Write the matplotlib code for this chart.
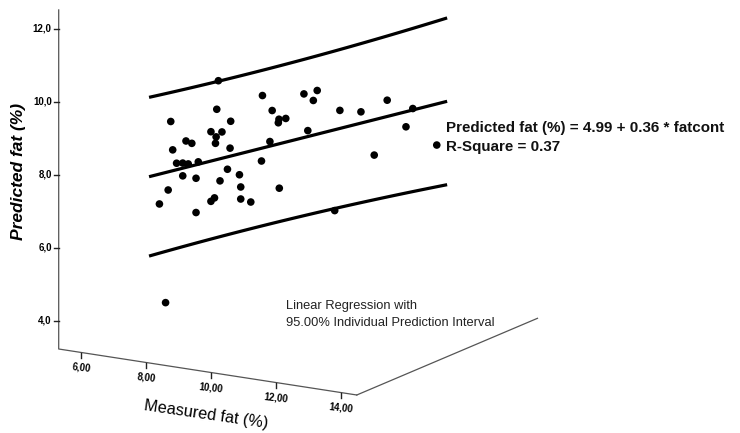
import numpy as np
import matplotlib
matplotlib.use("Agg")
import matplotlib.pyplot as plt
from matplotlib.transforms import Affine2D

plt.rcParams['font.family'] = ['Liberation Sans', 'DejaVu Sans']

# measured fat (x) and predicted fat (y)
measured = [5.97, 7.39, 8.80, 10.08, 10.49, 10.37, 9.10, 11.19, 11.84, 7.82,
            9.31, 9.52, 9.29, 7.21, 7.55, 7.37, 7.35, 6.44, 6.62, 6.03,
            7.80, 9.03, 10.20, 6.15, 6.34, 6.51, 6.82, 8.77, 7.72, 6.34,
            6.75, 7.49, 8.09, 8.13, 9.32, 5.89, 5.62, 7.21, 7.32, 6.75,
            8.13, 8.44, 11.03, 7.44, 12.65, 13.44, 13.23, 14.18, 12.25, 5.81]
predicted = [8.50, 9.03, 9.60, 9.82, 9.97, 9.68, 9.23, 9.52, 9.57, 8.76,
             9.02, 9.07, 8.92, 8.39, 8.43, 8.27, 8.09, 8.03, 7.99, 7.73,
             8.02, 8.37, 8.83, 7.38, 7.41, 7.41, 7.51, 7.80, 7.43, 7.06,
             7.05, 7.08, 7.33, 7.00, 7.13, 6.61, 6.19, 6.48, 6.59, 6.11,
             6.67, 6.63, 6.75, 9.82, 10.00, 9.88, 9.35, 8.98, 8.44, 3.51]

x_ticks = [6, 8, 10, 12, 14]
x_labels = ['6,00', '8,00', '10,00', '12,00', '14,00']
y_ticks = [4, 6, 8, 10, 12]
y_labels = ['4,0', '6,0', '8,0', '10,0', '12,0']

fit_text = 'Predicted fat (%) = 4.99 + 0.36 * fatcont'
r2_text = 'R-Square = 0.37'

# axis ranges
X0, X1 = 5.3, 14.5
Y0, Y1 = 3.22, 12.52

# pseudo 3d box (pixel units)
ox, oy = 58.7, 349.0
kx, kxy, ky = 32.4, 5.0, 36.46
dep_x, dep_y = 180.7, -76.7


def plane(depth):
    return Affine2D().from_values(kx, kxy, 0, -ky,
                                  ox - X0 * kx + depth * dep_x,
                                  oy + Y0 * ky - X0 * kxy + depth * dep_y)


fig = plt.figure(figsize=(7.4, 4.33), dpi=100)
ax = fig.add_axes([0, 0, 1, 1])
ax.set_xlim(0, 740)
ax.set_ylim(433, 0)
ax.axis('off')

front = plane(0.0)
mid = plane(0.5) + ax.transData

# floor / axes
axc = '#555555'
p = front.transform([[X0, Y1], [X0, Y0], [X1, Y0]])
ax.plot(p[:, 0], p[:, 1], color=axc, lw=0.9)
c0 = front.transform([[X1, Y0]])[0]
c1 = plane(1.0).transform([[X1, Y0]])[0]
ax.plot([c0[0], c1[0]], [c0[1], c1[1]], color=axc, lw=0.9)

for v, lab in zip(y_ticks, y_labels):
    sx, sy = front.transform([[X0, v]])[0]
    ax.plot([sx - 5, sx], [sy, sy], color='#222222', lw=1.0)
    ax.text(sx - 7, sy, lab, ha='right', va='center', fontsize=7,
            fontweight='bold')

for v, lab in zip(x_ticks, x_labels):
    sx, sy = front.transform([[v, Y0]])[0]
    ax.plot([sx, sx], [sy, sy + 5], color='#222222', lw=1.0)
    ax.text(sx, sy + 15, lab, ha='center', va='center', fontsize=7,
            fontweight='bold', rotation=-6, rotation_mode='anchor')

ax.text(206, 415, 'Measured fat (%)', ha='center', va='center',
        fontsize=11.7, rotation=-8.3, rotation_mode='anchor')
ax.text(19, 172, 'Predicted fat (%)', ha='center', va='center',
        fontsize=12.5, rotation=90, fontstyle='italic', fontweight='bold')

# regression with 95% individual prediction interval
x = np.array(measured)
y = np.array(predicted)
n = len(x)
b1, b0 = np.polyfit(x, y, 1)
s = np.sqrt(np.sum((y - (b0 + b1 * x)) ** 2) / (n - 2))
sxx = np.sum((x - x.mean()) ** 2)
xs = np.linspace(X0, X1, 60)
fit = b0 + b1 * xs
half = 2.011 * s * np.sqrt(1 + 1 / n + (xs - x.mean()) ** 2 / sxx)

for curve in (fit, fit + half, fit - half):
    ax.plot(xs, curve, color='black', lw=2.3, solid_capstyle='butt',
            transform=mid)

ax.scatter(x, y, s=30, color='black', edgecolors='none', transform=mid,
           zorder=3)

ax.text(446, 128, fit_text, ha='left', va='center', fontsize=10.9,
        fontweight='bold', color='#111111')
ax.text(446, 147, r2_text, ha='left', va='center', fontsize=10.9,
        fontweight='bold', color='#111111')

ax.text(286, 306, 'Linear Regression with', ha='left', va='center',
        fontsize=9.3, color='#222222')
ax.text(286, 323, '95.00% Individual Prediction Interval', ha='left',
        va='center', fontsize=9.3, color='#222222')

fig.savefig('out.png', dpi=100)
